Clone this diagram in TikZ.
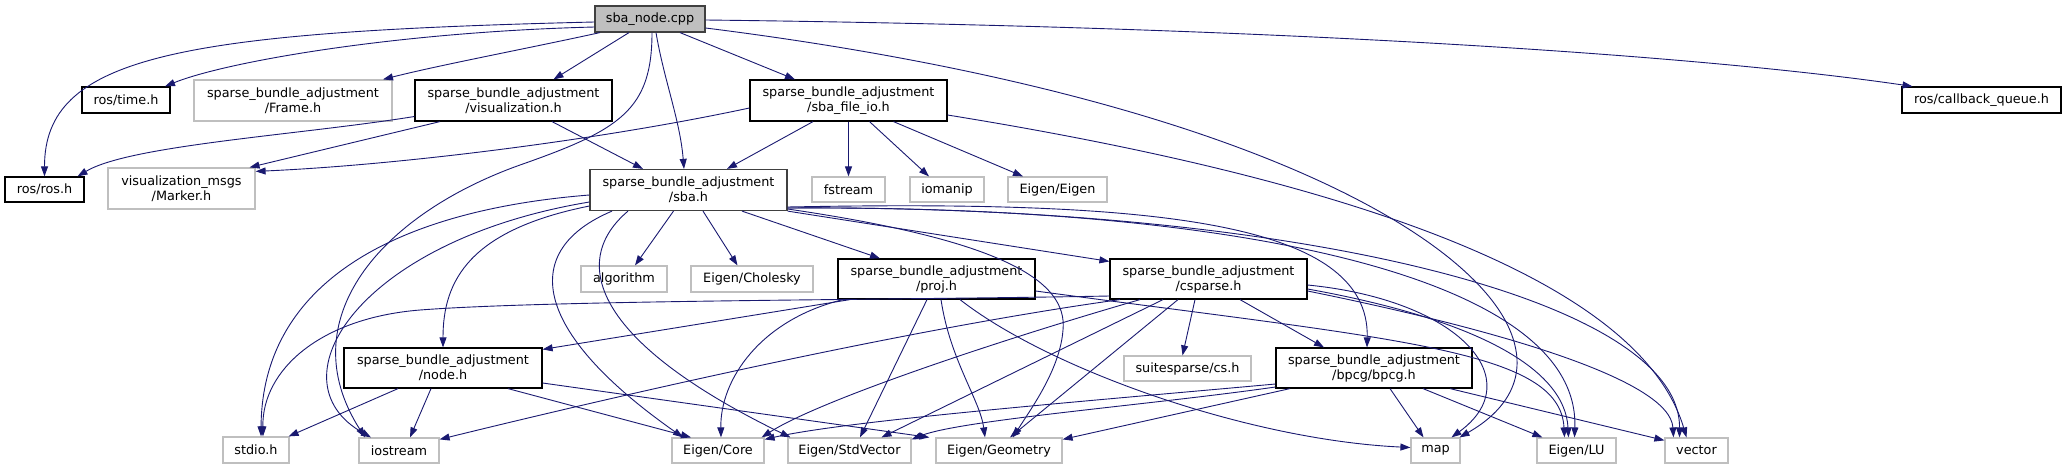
\documentclass[tikz,border=0pt]{standalone}
\usepackage{fontspec}
\setmainfont{DejaVu Sans}
\usetikzlibrary{arrows.meta}
\definecolor{edgeblue}{HTML}{191970}
\definecolor{lgrey}{HTML}{BFBFBF}
\definecolor{dgrey}{HTML}{404040}
\begin{document}
\begin{tikzpicture}[x=1pt,y=-1pt,>={Triangle[length=10pt,width=7pt]},
  font=\fontsize{12.8}{15}\selectfont,
  box/.style={line width=1.2pt,inner sep=0pt,align=center},
  doc/.style={box,draw=black},
  ext/.style={box,draw=lgrey},
  cur/.style={box,draw=dgrey},
  dep/.style={->,draw=edgeblue,line width=0.9pt}]
\useasboundingbox (0,0) rectangle (2067,469);
% top row
\node[cur,fill=lgrey,minimum width=110pt,minimum height=26pt](sbanode) at (650,19){sba\_node.cpp};
\node[doc,minimum width=88pt,minimum height=26pt](rostime) at (126,100){ros/time.h};
\node[ext,minimum width=198pt,minimum height=41pt](frame) at (293,100.5){sparse\_bundle\_adjustment\\/Frame.h};
\node[doc,minimum width=197pt,minimum height=41pt](vis) at (513.5,100.5){sparse\_bundle\_adjustment\\/visualization.h};
\node[doc,minimum width=197pt,minimum height=41pt](fileio) at (848.5,100.5){sparse\_bundle\_adjustment\\/sba\_file\_io.h};
\node[doc,minimum width=159pt,minimum height=26pt](callback) at (1981.5,100){ros/callback\_queue.h};
\node[doc,minimum width=79pt,minimum height=25pt](rosros) at (44.5,189.5){ros/ros.h};
\node[ext,minimum width=147pt,minimum height=41pt](marker) at (181.5,188.5){visualization\_msgs\\/Marker.h};
\node[cur,minimum width=197pt,minimum height=41pt](sba) at (688.5,190){sparse\_bundle\_adjustment\\/sba.h};
\node[ext,minimum width=73pt,minimum height=25pt](fstream) at (848.5,189.5){fstream};
\node[ext,minimum width=74pt,minimum height=25pt](iomanip) at (947,189.5){iomanip};
\node[ext,minimum width=99pt,minimum height=25pt](eigen) at (1057.5,189.5){Eigen/Eigen};
% middle
\node[ext,minimum width=86pt,minimum height=26pt](algorithm) at (624,279){algorithm};
\node[ext,minimum width=122pt,minimum height=26pt](cholesky) at (752,279){Eigen/Cholesky};
\node[doc,minimum width=197pt,minimum height=40pt](proj) at (936.5,279){sparse\_bundle\_adjustment\\/proj.h};
\node[doc,minimum width=197pt,minimum height=40pt](csparse) at (1208.5,279){sparse\_bundle\_adjustment\\/csparse.h};
\node[doc,minimum width=198pt,minimum height=40pt](nodeh) at (443,368){sparse\_bundle\_adjustment\\/node.h};
\node[ext,minimum width=127pt,minimum height=25pt](cs) at (1187.5,368.5){suitesparse/cs.h};
\node[doc,minimum width=196pt,minimum height=40pt](bpcg) at (1374,368){sparse\_bundle\_adjustment\\/bpcg/bpcg.h};
% bottom row
\node[ext,minimum width=66pt,minimum height=26pt](stdio) at (256,450){stdio.h};
\node[ext,minimum width=80pt,minimum height=25pt](iostream) at (399,450.5){iostream};
\node[ext,minimum width=92pt,minimum height=25pt](core) at (718,450.5){Eigen/Core};
\node[ext,minimum width=123pt,minimum height=25pt](stdvector) at (849.5,450.5){Eigen/StdVector};
\node[ext,minimum width=126pt,minimum height=25pt](geometry) at (999,450.5){Eigen/Geometry};
\node[ext,minimum width=49pt,minimum height=25pt](map) at (1435.5,450.5){map};
\node[ext,minimum width=79pt,minimum height=25pt](lu) at (1576.5,450.5){Eigen/LU};
\node[ext,minimum width=63pt,minimum height=25pt](vector) at (1696.5,450.5){vector};

% sba_node.cpp
\draw[dep]([yshift=-3pt]sbanode.west) .. controls (175,32) and (44.5,57) .. (rosros.north);
\draw[dep]([yshift=-8pt]sbanode.west) .. controls (395,32) and (225,62) .. ([xshift=39pt]rostime.north);
\draw[dep]([xshift=-50pt]sbanode.south) .. controls (520,50) and (440,65) .. ([xshift=90pt]frame.north);
\draw[dep]([xshift=-21pt]sbanode.south) -- ([xshift=40pt]vis.north);
\draw[dep]([xshift=2pt]sbanode.south) .. controls (652,110) and (620,130) .. (520,165) .. controls (380,215) and (290,320) .. ([xshift=-34pt]iostream.north);
\draw[dep]([xshift=6pt]sbanode.south) .. controls (664,80) and (680,120) .. ([xshift=-4.5pt]sba.north);
\draw[dep]([xshift=30pt]sbanode.south) -- ([xshift=-53.5pt]fileio.north);
\draw[dep]([yshift=-1pt]sbanode.east) .. controls (1305,27) and (1712,57) .. ([xshift=-69pt]callback.north);
\draw[dep]([yshift=-9pt]sbanode.east) .. controls (1200,90) and (1450,220) .. (1505,320) .. controls (1540,385) and (1490,420) .. ([xshift=24pt]map.north);

% visualization.h
\draw[dep]([yshift=-16pt]vis.west) .. controls (300,135) and (130,145) .. ([xshift=33pt]rosros.north);
\draw[dep]([xshift=-73.5pt]vis.south) -- ([xshift=68pt]marker.north);
\draw[dep]([xshift=38.5pt]vis.south) -- ([xshift=-45.5pt]sba.north);

% sba_file_io.h
\draw[dep]([yshift=-7.5pt]fileio.west) .. controls (600,140) and (400,165) .. ([yshift=-4pt]marker.north east);
\draw[dep]([xshift=-35.5pt]fileio.south) -- ([xshift=38.5pt]sba.north);
\draw[dep](fileio.south) -- (fstream.north);
\draw[dep]([xshift=21pt]fileio.south) -- ([xshift=-18pt]iomanip.north);
\draw[dep]([xshift=45pt]fileio.south) -- ([xshift=-34.5pt]eigen.north);
\draw[dep]([yshift=-14.5pt]fileio.east) .. controls (1350,180) and (1640,280) .. ([xshift=-10pt]vector.north);

% sba.h
\draw[dep]([xshift=-15pt]sba.south) -- ([xshift=11pt]algorithm.north);
\draw[dep]([xshift=14.5pt]sba.south) -- ([xshift=-14.5pt]cholesky.north);
\draw[dep]([xshift=53.5pt]sba.south) -- ([xshift=-56.5pt]proj.north);
\draw[dep](sba.south east) -- ([yshift=-3pt]csparse.north west);
\draw[dep]([yshift=-16pt]sba.west) .. controls (470,230) and (443,280) .. (nodeh.north);
\draw[dep]([yshift=-5pt]sba.west) .. controls (400,210) and (262,280) .. ([xshift=5pt]stdio.north);
\draw[dep]([yshift=-12pt]sba.west) .. controls (360,240) and (270,380) .. ([xshift=-28pt]iostream.north);
\draw[dep]([xshift=-76.5pt]sba.south) .. controls (520,250) and (530,330) .. ([xshift=-35pt]core.north);
\draw[dep]([xshift=-60.5pt]sba.south) .. controls (570,260) and (590,340) .. ([xshift=3pt]stdvector.north west);
\draw[dep]([yshift=-17pt]sba.east) .. controls (1150,200) and (1370,220) .. ([xshift=-7pt]bpcg.north);
\draw[dep]([yshift=-19pt]sba.east) .. controls (1000,240) and (1068,280) .. (1063,330) .. controls (1060,370) and (1030,410) .. ([xshift=14pt]geometry.north);
\draw[dep]([yshift=-18pt]sba.east) .. controls (1250,205) and (1580,280) .. ([xshift=-2pt]lu.north);
\draw[dep]([yshift=-18pt]sba.east) .. controls (1300,205) and (1680,300) .. ([xshift=-17pt]vector.north);

% proj.h
\draw[dep]([xshift=-86.5pt]proj.south) -- ([yshift=-2pt]nodeh.north east);
\draw[dep]([xshift=-93.5pt]proj.south) .. controls (760,320) and (720,380) .. ([xshift=3pt]core.north);
\draw[dep]([xshift=-9.5pt]proj.south) -- ([xshift=10.5pt]stdvector.north);
\draw[dep]([xshift=4.5pt]proj.south) .. controls (950,360) and (980,400) .. ([xshift=-14pt]geometry.north);
\draw[dep]([xshift=23.5pt]proj.south) .. controls (1050,370) and (1250,440) .. ([yshift=3pt]map.west);
\draw[dep]([yshift=-12pt]proj.east) .. controls (1400,340) and (1560,350) .. ([xshift=-12pt]lu.north);

% csparse.h
\draw[dep]([yshift=-17pt]csparse.west) .. controls (900,300) and (550,300) .. (420,310) .. controls (320,318) and (262,370) .. ([xshift=7pt]stdio.north);
\draw[dep]([xshift=-88.5pt]csparse.south) .. controls (900,330) and (600,400) .. ([yshift=-2pt]iostream.north east);
\draw[dep]([xshift=-68.5pt]csparse.south) .. controls (1000,340) and (820,400) .. ([xshift=-3pt]core.north east);
\draw[dep]([xshift=-45.5pt]csparse.south) -- ([xshift=32pt]stdvector.north);
\draw[dep]([xshift=-30.5pt]csparse.south) -- ([xshift=11pt]geometry.north);
\draw[dep]([xshift=-13.5pt]csparse.south) -- ([xshift=-5pt]cs.north);
\draw[dep]([xshift=31.5pt]csparse.south) -- ([xshift=-50pt]bpcg.north);
\draw[dep]([yshift=-6pt]csparse.east) .. controls (1460,300) and (1530,380) .. ([xshift=16pt]map.north);
\draw[dep]([yshift=-10pt]csparse.east) .. controls (1480,320) and (1565,370) .. ([xshift=-8pt]lu.north);
\draw[dep]([yshift=-12pt]csparse.east) .. controls (1500,330) and (1670,380) .. ([xshift=-23pt]vector.north);

% bpcg.h
\draw[dep]([yshift=-16pt]bpcg.west) .. controls (1100,400) and (850,420) .. ([yshift=-2pt]core.north east);
\draw[dep]([yshift=-19pt]bpcg.west) .. controls (1150,405) and (960,420) .. ([yshift=-2pt]stdvector.north east);
\draw[dep]([xshift=-84pt]bpcg.south) -- ([yshift=-2pt]geometry.north east);
\draw[dep]([xshift=16pt]bpcg.south) -- ([xshift=-12pt]map.north);
\draw[dep]([xshift=49pt]bpcg.south) -- ([xshift=6pt]lu.north west);
\draw[dep]([xshift=76pt]bpcg.south) -- ([yshift=-3pt]vector.north west);

% node.h
\draw[dep]([xshift=-45pt]nodeh.south) -- ([xshift=-1pt]stdio.north east);
\draw[dep]([xshift=-12pt]nodeh.south) -- ([xshift=11pt]iostream.north);
\draw[dep]([xshift=65pt]nodeh.south) -- ([xshift=-27pt]core.north);
\draw[dep]([yshift=-15pt]nodeh.east) -- ([xshift=-6pt]geometry.north west);
\end{tikzpicture}
\end{document}
